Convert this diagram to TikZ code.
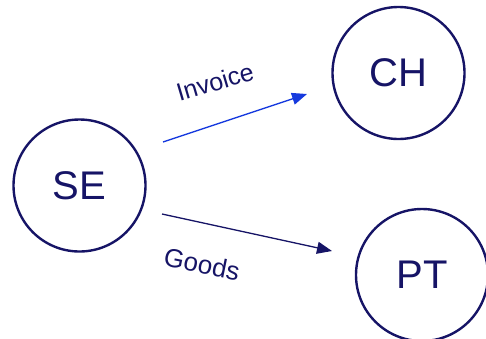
\documentclass[tikz,border=0pt]{standalone}
\usepackage{fontspec}
\setmainfont{Liberation Sans}
\usetikzlibrary{arrows.meta}
\definecolor{navy}{RGB}{22,20,102}
\definecolor{invblue}{RGB}{22,58,222}
\tikzset{
  country/.style={circle, draw=navy, line width=2.4pt, minimum size=132pt, inner sep=0pt, text=navy, font=\fontsize{40}{41}\selectfont},
  flow/.style={line width=1.3pt, -{Triangle[length=15pt,width=12pt]}},
  flowlabel/.style={text=navy, inner sep=0pt},
}
\begin{document}
\begin{tikzpicture}[x=1pt,y=-1pt]
  \useasboundingbox (0,0) rectangle (486,338);
  \node[country] (se) at (79.5,185.5) {SE};
  \node[country] (ch) at (398.5,73) {CH};
  \node[country] (pt) at (422,275) {PT};
  \coordinate (invA) at (163,142);
  \coordinate (invB) at (307,94);
  \coordinate (gdsA) at (162,214);
  \coordinate (gdsB) at (332,251);
  \draw[flow, draw=invblue, fill=invblue] (invA) -- (invB);
  \draw[flow, draw=navy, fill=navy] (gdsA) -- (gdsB);
  \node[flowlabel, rotate=16.5, font=\fontsize{25}{27}\selectfont] (inv) at (215,82) {Invoice};
  \node[flowlabel, rotate=-11.5, font=\fontsize{26}{28}\selectfont] (gds) at (202,264) {Goods};
\end{tikzpicture}
\end{document}
